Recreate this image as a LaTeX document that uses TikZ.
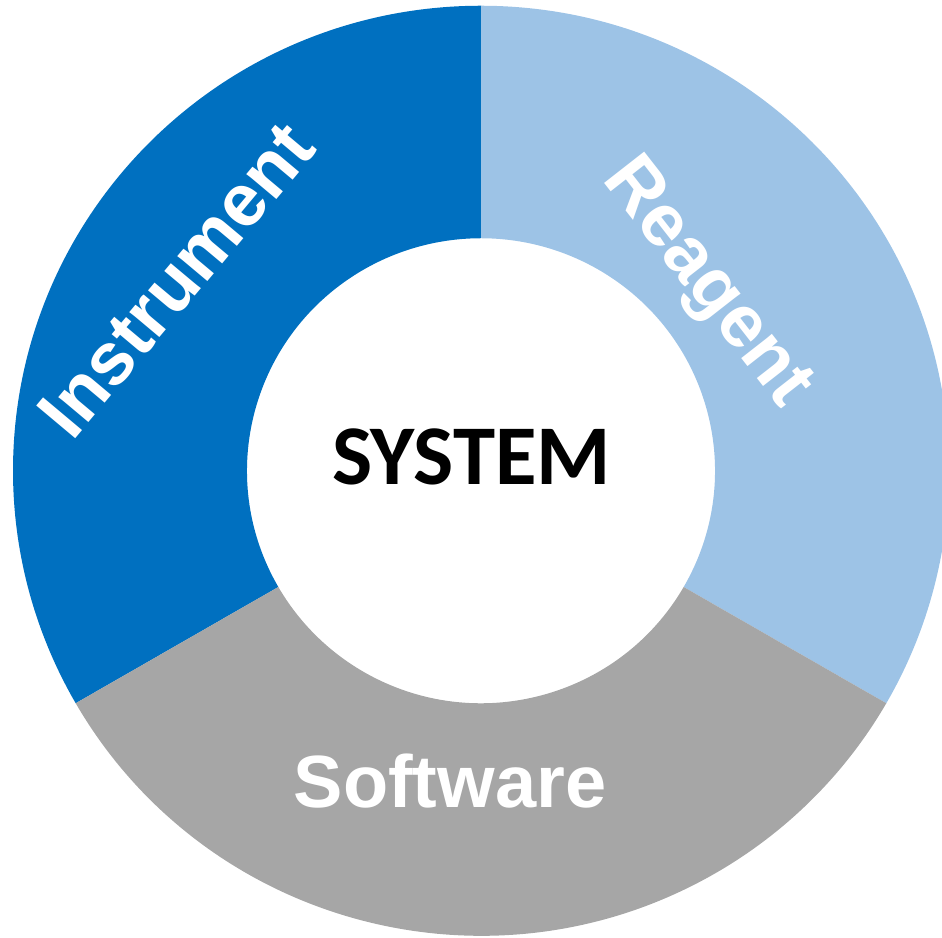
\documentclass[tikz,border=0pt]{standalone}
\usepackage{fontspec}
\setmainfont{Liberation Sans}
\newfontfamily\sysfont{Carlito}
\definecolor{instrcol}{RGB}{0,112,192}
\definecolor{reagcol}{RGB}{157,195,230}
\definecolor{softcol}{RGB}{166,166,166}
\tikzset{
  seglabel/.style={text=white, font=\bfseries\fontsize{74}{80}\selectfont, inner sep=0pt, text height=53pt, text depth=0pt},
  syslabel/.style={text=black, font=\sysfont\bfseries\fontsize{85}{90}\selectfont, inner sep=0pt, text height=54pt, text depth=0pt}
}
\begin{document}
\begin{tikzpicture}[x=1pt,y=1pt]
\useasboundingbox (0,0) rectangle (942,937);
\coordinate (C) at (481,466.25);
% Instrument segment
\fill[instrcol] (C) ++(90:468 and 465) arc[start angle=90,end angle=210,x radius=468,y radius=465]
  -- ([shift={(C)}]210:234 and 232.5) arc[start angle=210,end angle=90,x radius=234,y radius=232.5] -- cycle;
% Reagent segment
\fill[reagcol] (C) ++(90:468 and 465) arc[start angle=90,end angle=-30,x radius=468,y radius=465]
  -- ([shift={(C)}]-30:234 and 232.5) arc[start angle=-30,end angle=90,x radius=234,y radius=232.5] -- cycle;
% Software segment
\fill[softcol] (C) ++(210:468 and 465) arc[start angle=210,end angle=330,x radius=468,y radius=465]
  -- ([shift={(C)}]330:234 and 232.5) arc[start angle=330,end angle=210,x radius=234,y radius=232.5] -- cycle;
\node[seglabel, rotate=50] (instr) at (175,658) {Instrument};
\node[seglabel, rotate=-52] (reag) at (712.5,658.5) {Reagent};
\node[seglabel] (soft) at (450,156) {Software};
\node[syslabel] (sys) at (471.5,479.5) {SYSTEM};
\end{tikzpicture}
\end{document}
